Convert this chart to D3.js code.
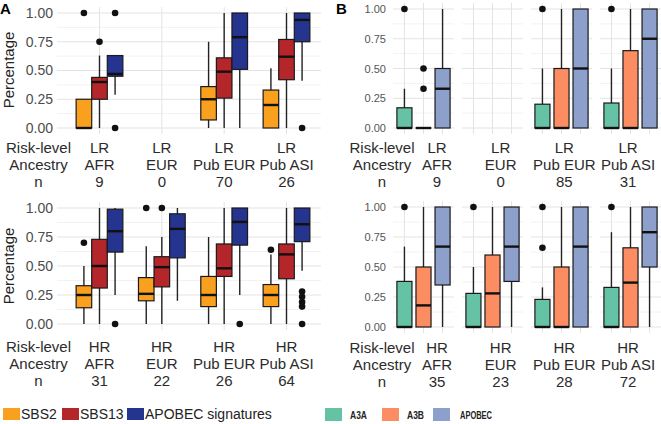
<!DOCTYPE html>
<html>
<head>
<meta charset="utf-8">
<script src="https://cdn.jsdelivr.net/npm/d3@7"></script>
<style>
  body { margin: 0; background: #fff; }
  text { font-family: "Liberation Sans", Arial, sans-serif; }
</style>
</head>
<body>
<script>
// categories
const ancestry = ["AFR", "EUR", "Pub EUR", "Pub ASI"];
const riskTop = ["LR", "LR", "LR", "LR"];
const riskBottom = ["HR", "HR", "HR", "HR"];
const nATop = [9, 0, 70, 26];
const nABottom = [31, 22, 26, 64];
const nBTop = [9, 0, 85, 31];
const nBBottom = [35, 23, 28, 72];
const seriesA = ["SBS2", "SBS13", "APOBEC signatures"];
const seriesB = ["A3A", "A3B", "APOBEC"];
const yTicks = [0, 0.25, 0.5, 0.75, 1];
const yMinor = [0.125, 0.375, 0.625, 0.875];

// box stats: [low whisker, q1, median, q3, high whisker], null = no data
const aTopSBS2 = [[0, 0, 0, 0.25, 0.25], null, [0, 0.07, 0.25, 0.36, 0.75], [0, 0, 0.2, 0.33, 0.52]];
const aTopSBS13 = [[0, 0.25, 0.4, 0.44, 0.63], null, [0, 0.26, 0.49, 0.61, 1], [0, 0.42, 0.62, 0.77, 1]];
const aTopAPOBEC = [[0.29, 0.45, 0.47, 0.63, 0.63], null, [0, 0.51, 0.79, 1, 1], [0.41, 0.75, 0.94, 1, 1]];
const aTopSBS2Out = [[1], [], [], []];
const aTopSBS13Out = [[0.75], [], [], []];
const aTopAPOBECOut = [[1, 0], [], [], [0]];

const aBotSBS2 = [[0, 0.14, 0.25, 0.33, 0.5], [0, 0.2, 0.26, 0.4, 0.67], [0, 0.15, 0.25, 0.41, 0.75], [0, 0.15, 0.25, 0.34, 0.6]];
const aBotSBS13 = [[0, 0.31, 0.5, 0.73, 1], [0, 0.32, 0.49, 0.58, 0.75], [0, 0.41, 0.48, 0.69, 1], [0, 0.39, 0.6, 0.69, 1]];
const aBotAPOBEC = [[0.25, 0.62, 0.8, 0.99, 1], [0.2, 0.57, 0.82, 0.95, 1], [0.25, 0.68, 0.88, 1, 1], [0.46, 0.71, 0.86, 1, 1]];
const aBotSBS2Out = [[0.7], [1], [], [0.64]];
const aBotSBS13Out = [[], [1], [], []];
const aBotAPOBECOut = [[0], [], [0], [0.28, 0.235, 0.19, 0.15, 0]];

const bTopA3A = [[0, 0, 0, 0.17, 0.33], null, [0, 0, 0, 0.2, 0.5], [0, 0, 0, 0.21, 0.5]];
const bTopA3B = [[0, 0, 0, 0, 0], null, [0, 0, 0, 0.5, 1], [0, 0, 0, 0.65, 1]];
const bTopAPOBEC = [[0, 0, 0.33, 0.5, 1], null, [0, 0, 0.5, 1, 1], [0, 0, 0.75, 1, 1]];
const bTopA3AOut = [[1], [], [1], [1]];
const bTopA3BOut = [[0.5, 0.33], [], [], []];
const bTopAPOBECOut = [[], [], [], []];

const bBotA3A = [[0, 0, 0, 0.38, 0.67], [0, 0, 0, 0.28, 0.5], [0, 0, 0, 0.23, 0.33], [0, 0, 0, 0.33, 0.79]];
const bBotA3B = [[0, 0, 0.18, 0.5, 1], [0, 0, 0.28, 0.6, 1], [0, 0, 0, 0.5, 1], [0, 0, 0.37, 0.66, 1]];
const bBotAPOBEC = [[0, 0.35, 0.67, 1, 1], [0, 0.38, 0.67, 1, 1], [0, 0, 0.67, 1, 1], [0, 0.5, 0.79, 1, 1]];
const bBotA3AOut = [[1], [1], [1, 0.66], [1]];
const bBotA3BOut = [[], [], [], []];
const bBotAPOBECOut = [[], [], [], []];

const colorA = d3.scaleOrdinal().domain(seriesA).range(["#F9A01E", "#B4262A", "#25348F"]);
const colorB = d3.scaleOrdinal().domain(seriesB).range(["#66C2A5", "#FC8D62", "#8DA0CB"]);

const svg = d3.select("body").append("svg")
    .attr("width", 661)
    .attr("height", 424);

const gridMajor = "#e3e3e3";
const gridMinor = "#f2f2f2";

function drawBox(g, cx, w, s, outs, y, fill) {
    if (s) {
        g.append("line")
            .attr("x1", cx).attr("x2", cx)
            .attr("y1", y(s[0])).attr("y2", y(s[4]))
            .attr("stroke", "#222").attr("stroke-width", 1.4);
        g.append("rect")
            .attr("x", cx - w / 2).attr("width", w)
            .attr("y", y(s[3])).attr("height", Math.max(0.01, y(s[1]) - y(s[3])))
            .attr("fill", fill).attr("stroke", "#1a1a1a").attr("stroke-width", 1.2);
        g.append("line")
            .attr("x1", cx - w / 2).attr("x2", cx + w / 2)
            .attr("y1", y(s[2])).attr("y2", y(s[2]))
            .attr("stroke", "#111").attr("stroke-width", 2.4);
    }
    g.selectAll(null).data(outs).enter().append("circle")
        .attr("cx", cx).attr("cy", d => y(d))
        .attr("r", 3.3).attr("fill", "#111");
}

function yGrid(g, y, x0, x1) {
    g.selectAll(null).data(yMinor).enter().append("line")
        .attr("x1", x0).attr("x2", x1)
        .attr("y1", d => y(d)).attr("y2", d => y(d))
        .attr("stroke", gridMinor).attr("stroke-width", 1);
    g.selectAll(null).data(yTicks).enter().append("line")
        .attr("x1", x0).attr("x2", x1)
        .attr("y1", d => y(d)).attr("y2", d => y(d))
        .attr("stroke", gridMajor).attr("stroke-width", 1);
}

function yAxis(x, y, size, color, pad) {
    const ax = svg.append("g")
        .attr("transform", `translate(${x},0)`)
        .call(d3.axisLeft(y).tickValues(yTicks).tickFormat(d3.format(".2f")).tickSize(0).tickPadding(pad));
    ax.select(".domain").remove();
    ax.selectAll("text")
        .attr("font-size", size)
        .attr("fill", color)
        .style("font-family", "'Liberation Sans', Arial, sans-serif");
}

function xLabels(xPos, centerX, base, risk, n) {
    const rows = [["Risk-level", risk], ["Ancestry", ancestry], ["n", n]];
    rows.forEach((r, i) => {
        svg.append("text")
            .attr("x", centerX).attr("y", base + i * 17)
            .attr("text-anchor", "middle")
            .attr("font-size", 15).attr("fill", "#2b2b2b")
            .text(r[0]);
        svg.selectAll(null).data(ancestry).enter().append("text")
            .attr("x", d => xPos(d)).attr("y", base + i * 17)
            .attr("text-anchor", "middle")
            .attr("font-size", 15).attr("fill", "#2b2b2b")
            .text((d, j) => r[1][j]);
    });
}

// ---------- panel A ----------
const xA = d3.scalePoint().domain(ancestry).range([99.5, 286.5]);
const stepA = xA.step();
const dodgeA = d3.scaleBand().domain(seriesA).range([-stepA * 0.375, stepA * 0.375]);
const yATop = d3.scaleLinear().domain([0, 1]).range([128, 13]);
const yABot = d3.scaleLinear().domain([0, 1]).range([324, 208]);

function panelA(y, stats, outs, risk, n, base) {
    const g = svg.append("g");
    yGrid(g, y, 57, 321);
    g.selectAll(null).data(ancestry).enter().append("line")
        .attr("x1", d => xA(d)).attr("x2", d => xA(d))
        .attr("y1", y(1) - 6).attr("y2", y(0) + 6)
        .attr("stroke", gridMajor).attr("stroke-width", 1);
    seriesA.forEach((s, si) => {
        ancestry.forEach((a, ai) => {
            drawBox(g, xA(a) + dodgeA(s) + dodgeA.bandwidth() / 2, dodgeA.bandwidth(),
                stats[si][ai], outs[si][ai], y, colorA(s));
        });
    });
    yAxis(57, y, 14, "#4d4d4d", 4);
    xLabels(xA, 38.5, base, risk, n);
}

panelA(yATop, [aTopSBS2, aTopSBS13, aTopAPOBEC], [aTopSBS2Out, aTopSBS13Out, aTopAPOBECOut], riskTop, nATop, 153);
panelA(yABot, [aBotSBS2, aBotSBS13, aBotAPOBEC], [aBotSBS2Out, aBotSBS13Out, aBotAPOBECOut], riskBottom, nABottom, 352);

svg.append("text")
    .attr("transform", `translate(14,70) rotate(-90)`)
    .attr("text-anchor", "middle").attr("font-size", 15).attr("fill", "#222")
    .text("Percentage");
svg.append("text")
    .attr("transform", `translate(14,266) rotate(-90)`)
    .attr("text-anchor", "middle").attr("font-size", 15).attr("fill", "#222")
    .text("Percentage");

// ---------- panel B ----------
const facetB = d3.scaleBand().domain(ancestry).range([393, 661]).paddingInner(0.116);
const innerB = d3.scalePoint().domain(seriesB).range([0, facetB.bandwidth()]).padding(0.6);
const boxWB = innerB.step() * 0.79;
const labelB = d3.scalePoint().domain(ancestry).range([437, 628]);
const yBTop = d3.scaleLinear().domain([0, 1]).range([128, 9]);
const yBBot = d3.scaleLinear().domain([0, 1]).range([327, 207]);

function panelB(y, stats, outs, risk, n, base) {
    const g = svg.append("g");
    ancestry.forEach((a, ai) => {
        const fx = facetB(a);
        const fg = g.append("g").attr("transform", `translate(${fx},0)`);
        yGrid(fg, y, 0, facetB.bandwidth());
        fg.selectAll(null).data(seriesB).enter().append("line")
            .attr("x1", d => innerB(d)).attr("x2", d => innerB(d))
            .attr("y1", y(1) - 6).attr("y2", y(0) + 6)
            .attr("stroke", gridMajor).attr("stroke-width", 1);
        seriesB.forEach((s, si) => {
            drawBox(fg, innerB(s), boxWB, stats[si][ai], outs[si][ai], y, colorB(s));
        });
    });
    yAxis(393, y, 11, "#555", 7);
    xLabels(labelB, 382, base, risk, n);
}

panelB(yBTop, [bTopA3A, bTopA3B, bTopAPOBEC], [bTopA3AOut, bTopA3BOut, bTopAPOBECOut], riskTop, nBTop, 153);
panelB(yBBot, [bBotA3A, bBotA3B, bBotAPOBEC], [bBotA3AOut, bBotA3BOut, bBotAPOBECOut], riskBottom, nBBottom, 353);

// panel letters
svg.append("text").attr("x", 0).attr("y", 14).attr("font-size", 15).attr("font-weight", "bold").text("A");
svg.append("text").attr("x", 336).attr("y", 14).attr("font-size", 15).attr("font-weight", "bold").text("B");

// ---------- legends ----------
const legendAX = [3, 62, 127];
const legA = svg.append("g").selectAll("g").data(seriesA).enter().append("g")
    .attr("transform", (d, i) => `translate(${legendAX[i]},408)`);
legA.append("rect").attr("width", 17).attr("height", 12).attr("fill", d => colorA(d));
legA.append("text").attr("x", 18).attr("y", 11).attr("font-size", 14).attr("fill", "#222").text(d => d);

const legendBX = [325, 382, 433];
const legendBW = [17, 17, 32];
const legB = svg.append("g").selectAll("g").data(seriesB).enter().append("g")
    .attr("transform", (d, i) => `translate(${legendBX[i]},408)`);
legB.append("rect").attr("width", 17).attr("height", 13).attr("fill", d => colorB(d));
legB.append("text").attr("x", d => d === "APOBEC" ? 27 : 25).attr("y", 10.5)
    .attr("font-size", 10).attr("font-weight", "bold").attr("fill", "#222")
    .attr("textLength", (d, i) => legendBW[i]).attr("lengthAdjust", "spacingAndGlyphs")
    .text(d => d);
</script>
</body>
</html>
